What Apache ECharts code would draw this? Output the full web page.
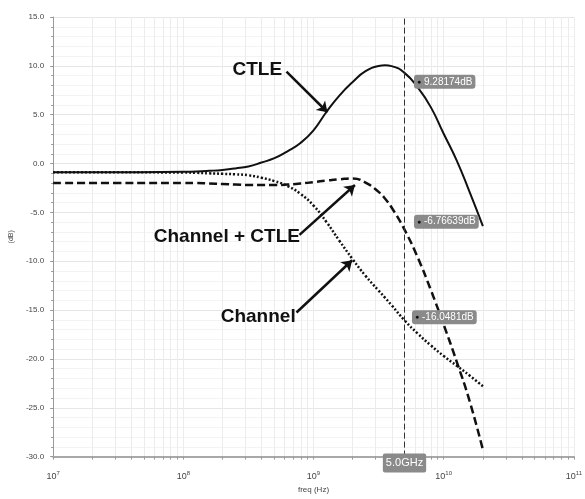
<!DOCTYPE html>
<html>
<head>
<meta charset="utf-8">
<script src="https://cdn.jsdelivr.net/npm/echarts@6/dist/echarts.min.js"></script>
<style>
  html, body { margin: 0; padding: 0; background: #fff; }
  #chart { width: 585px; height: 499px; }
</style>
</head>
<body>
<div id="chart"></div>
<script>
// frequency points (Hz) and gain curves (dB)
const freqHz = [1e7, 3.16e7, 1e8, 1.26e8, 1.58e8, 2e8, 2.51e8, 3.16e8, 3.98e8, 5.01e8, 6.31e8, 7.94e8,
                1e9, 1.26e9, 1.58e9, 2e9, 2.51e9, 3.16e9, 3.55e9, 3.98e9, 5e9, 6.31e9, 7.94e9,
                1e10, 1.26e10, 1.58e10, 2e10];
const ctleDb = [-0.9, -0.9, -0.85, -0.82, -0.75, -0.65, -0.5, -0.3, 0.1, 0.55, 1.25, 2.1,
                3.4, 5.3, 6.95, 8.35, 9.45, 9.98, 10.05, 9.97, 9.28, 7.8, 5.8,
                3.05, 0.3, -2.9, -6.4];
const comboDb = [-2.0, -2.0, -2.0, -2.0, -2.05, -2.1, -2.15, -2.2, -2.2, -2.2, -2.15, -2.05,
                 -1.9, -1.75, -1.62, -1.52, -1.95, -2.9, -3.6, -4.5, -6.77, -9.6, -12.9,
                 -16.5, -20.3, -24.3, -29.3];
const channelDb = [-0.9, -0.9, -0.92, -0.95, -1.0, -1.05, -1.1, -1.2, -1.45, -1.8, -2.3, -3.1,
                   -4.3, -6.0, -7.9, -9.8, -11.5, -13.0, -13.75, -14.5, -16.05, -17.4, -18.6,
                   -19.7, -20.7, -21.7, -22.8];

// cursor at 5 GHz and the read-outs shown there
const cursorFreq = 5e9;
const cursorLabel = '5.0GHz';
const readoutDb = [9.28174, -6.76639, -16.0481];
const readoutText = ['9.28174dB', '-6.76639dB', '-16.0481dB'];

// axis ticks
const xDecades = [1e7, 1e8, 1e9, 1e10, 1e11];
const yMin = -30, yMax = 15, yStep = 5;

const FONT = "'Liberation Sans Narrow', 'Liberation Sans', Arial, sans-serif";

// log minor ticks 2..9 in every decade
const xTicks = [];
xDecades.forEach((d, i) => {
    xTicks.push(d);
    if (i < xDecades.length - 1) for (let k = 2; k <= 9; k++) xTicks.push(d * k);
});

const pairs = ys => freqHz.map((f, i) => [f, ys[i]]);

const noteText = (coord, text) => ({
    coord,
    symbol: 'circle',
    symbolSize: 1,
    itemStyle: { color: 'rgba(0,0,0,0)' },
    label: {
        show: true, position: 'inside', formatter: text,
        fontFamily: FONT, fontSize: 19, fontWeight: 'bold', color: '#111'
    }
});

const readout = (i, offset) => ({
    coord: [cursorFreq, readoutDb[i]],
    symbol: 'circle',
    symbolSize: 1,
    itemStyle: { color: 'rgba(0,0,0,0)' },
    label: {
        show: true, position: 'right', offset,
        formatter: '{d|●} ' + readoutText[i],
        backgroundColor: '#8a8a8a', color: '#fff', borderRadius: 3,
        padding: [2, 3], fontFamily: FONT, fontSize: 10,
        rich: { d: { color: '#111', fontSize: 7 } }
    }
});

const arrow = (from, to) => [{ coord: from }, { coord: to }];

// annotation arrows (open ends at the text, head at the curve)
const arrowMarks = list => ({
    silent: true,
    symbol: ['none', 'arrow'],
    symbolSize: 10,
    itemStyle: { color: '#111' },
    label: { show: false },
    lineStyle: { color: '#111', width: 2.5, type: 'solid' },
    data: list
});

const chart = echarts.init(document.getElementById('chart'));
chart.setOption({
    animation: false,
    backgroundColor: '#fff',
    grid: { left: 44, right: 8, top: 17, bottom: 37 },
    xAxis: {
        type: 'log',
        logBase: 10,
        min: 1e7,
        max: 1e11,
        name: 'freq (Hz)',
        nameLocation: 'middle',
        nameGap: 28,
        nameTextStyle: { fontFamily: FONT, fontSize: 8, color: '#444' },
        axisLine: { onZero: false, lineStyle: { color: '#a8a8a8', width: 2 } },
        axisTick: { customValues: xTicks, length: 3, lineStyle: { color: '#999' } },
        splitLine: { show: true, lineStyle: { color: '#ececec' } },
        axisLabel: {
            customValues: xDecades,
            margin: 14,
            color: '#444',
            fontFamily: FONT,
            formatter: v => '{b|10}{s|' + Math.round(Math.log10(v)) + '}',
            rich: {
                b: { fontSize: 9, fontFamily: FONT, color: '#444' },
                s: { fontSize: 6, fontFamily: FONT, color: '#444', padding: [0, 0, 6, 0] }
            }
        }
    },
    yAxis: {
        type: 'value',
        min: yMin,
        max: yMax,
        interval: yStep,
        name: '(dB)',
        nameLocation: 'middle',
        nameGap: 32,
        nameTextStyle: { fontFamily: FONT, fontSize: 7, color: '#444' },
        axisLine: { show: true, lineStyle: { color: '#999' } },
        axisTick: { show: true, length: 3, lineStyle: { color: '#999' } },
        minorTick: { show: true, splitNumber: 5, length: 2, lineStyle: { color: '#999' } },
        splitLine: { lineStyle: { color: '#e6e6e6' } },
        minorSplitLine: { show: true, lineStyle: { color: '#f3f3f3' } },
        axisLabel: {
            formatter: v => v.toFixed(1),
            fontFamily: FONT, fontSize: 8, color: '#444', margin: 9
        }
    },
    series: [
        {
            name: 'CTLE',
            type: 'line',
            data: pairs(ctleDb),
            smooth: 0.5,
            showSymbol: false,
            lineStyle: { color: '#111', width: 2 },
            markPoint: {
                silent: true,
                data: [noteText([3.7e8, 9.6], 'CTLE'), readout(0, [4, 9])]
            },
            markLine: arrowMarks([arrow([6.2e8, 9.4], [1.28e9, 5.25])])
        },
        {
            name: 'Channel + CTLE',
            type: 'line',
            data: pairs(comboDb),
            smooth: 0.5,
            showSymbol: false,
            lineStyle: { color: '#111', width: 2.5, type: [8, 4] },
            markPoint: {
                silent: true,
                data: [noteText([2.16e8, -7.5], 'Channel + CTLE'), readout(1, [4, -8])]
            },
            markLine: arrowMarks([
                arrow([7.8e8, -7.3], [2.08e9, -2.2]),
                arrow([7.4e8, -15.25], [1.98e9, -9.9])
            ])
        },
        {
            name: 'Channel',
            type: 'line',
            data: pairs(channelDb),
            smooth: 0.5,
            showSymbol: false,
            lineStyle: { color: '#111', width: 2.5, type: [2, 2] },
            markPoint: {
                silent: true,
                data: [noteText([3.76e8, -15.7], 'Channel'), readout(2, [2, -3])]
            },
            markLine: {
                silent: true,
                symbol: 'none',
                lineStyle: { color: '#333', width: 1, type: [6, 3] },
                label: {
                    show: true, position: 'start', distance: -3,
                    formatter: cursorLabel,
                    backgroundColor: '#8a8a8a', color: '#fff', borderRadius: 2,
                    padding: [4, 3], fontFamily: FONT, fontSize: 11
                },
                data: [{ xAxis: cursorFreq }]
            }
        }
    ]
});
</script>
</body>
</html>
